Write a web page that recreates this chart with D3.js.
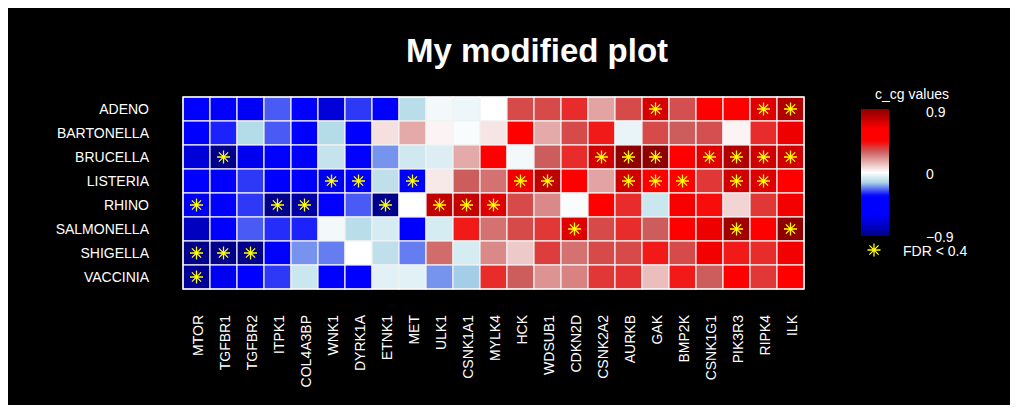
<!DOCTYPE html>
<html>
<head>
<meta charset="utf-8">
<script src="https://cdn.jsdelivr.net/npm/d3@7"></script>
<style>
  body { margin: 0; background: #ffffff; }
  text { font-family: "Liberation Sans", Arial, sans-serif; fill: #ffffff; }
</style>
</head>
<body>
<div id="container"></div>
<script>
const rows = ["ADENO", "BARTONELLA", "BRUCELLA", "LISTERIA", "RHINO", "SALMONELLA", "SHIGELLA", "VACCINIA"];

const genes = ["MTOR", "TGFBR1", "TGFBR2", "ITPK1", "COL4A3BP", "WNK1", "DYRK1A", "ETNK1", "MET", "ULK1",
    "CSNK1A1", "MYLK4", "HCK", "WDSUB1", "CDKN2D", "CSNK2A2", "AURKB", "GAK", "BMP2K", "CSNK1G1",
    "PIK3R3", "RIPK4", "ILK"];

// c_cg values, one array per row
const adeno      = [-0.5, -0.5, -0.62, -0.25, -0.5, -0.7, -0.28, -0.5, -0.12, -0.02, -0.03, 0, 0.33, 0.33, 0.38, 0.17, 0.33, 0.72, 0.32, 0.5, 0.55, 0.7, 0.81];
const bartonella = [-0.5, -0.3, -0.13, -0.25, -0.5, -0.13, -0.5, 0.06, 0.16, 0.02, -0.01, 0.05, 0.5, 0.16, 0.33, 0.41, -0.04, 0.33, 0.3, 0.32, 0.02, 0.38, 0.66];
const brucella   = [-0.7, -0.9, -0.64, -0.35, -0.5, -0.1, -0.5, -0.2, -0.08, -0.06, 0.16, 0.5, -0.02, 0.3, 0.38, 0.73, 0.89, 0.89, 0.5, 0.7, 0.81, 0.73, 0.73];
const listeria   = [-0.5, -0.5, -0.28, -0.5, -0.5, -0.64, -0.45, -0.11, -0.5, 0.04, 0.3, 0.26, 0.66, 0.77, 0.5, 0.17, 0.73, 0.6, 0.6, 0.36, 0.73, 0.7, 0.5];
const rhino      = [-0.64, -0.5, -0.28, -0.9, -0.84, -0.5, -0.25, -0.9, 0, 0.77, 0.76, 0.7, 0.33, 0.22, -0.01, 0.5, 0.38, -0.09, 0.64, 0.43, 0.08, 0.36, 0.65];
const salmonella = [-0.76, -0.5, -0.25, -0.29, -0.3, -0.02, -0.12, -0.07, -0.5, -0.07, 0.41, 0.26, 0.33, 0.36, 0.7, 0.33, 0.38, 0.3, 0.5, 0.66, 0.85, 0.5, 0.89];
const shigella   = [-0.9, -0.9, -0.9, -0.5, -0.2, -0.22, 0, -0.11, -0.22, 0.27, -0.07, 0.22, 0.1, 0.35, 0.26, 0.33, 0.33, 0.41, 0.33, 0.65, 0.41, 0.38, 0.65];
const vaccinia   = [-0.87, -0.64, -0.48, -0.28, -0.09, -0.5, -0.48, -0.05, -0.05, -0.2, -0.15, 0.38, 0.3, 0.2, 0.23, 0.36, 0.37, 0.12, 0.41, 0.3, 0.5, 0.36, 0.5];

// column indexes where FDR < 0.4
const adenoSig      = [17, 21, 22];
const bartonellaSig = [];
const brucellaSig   = [1, 15, 16, 17, 19, 20, 21, 22];
const listeriaSig   = [5, 6, 8, 12, 13, 16, 17, 18, 20, 21];
const rhinoSig      = [0, 3, 4, 7, 9, 10, 11];
const salmonellaSig = [14, 20, 22];
const shigellaSig   = [0, 1, 2];
const vacciniaSig   = [0];

const legendTicks = [0.9, 0, -0.9];

const values = [adeno, bartonella, brucella, listeria, rhino, salmonella, shigella, vaccinia];
const sigs = [adenoSig, bartonellaSig, brucellaSig, listeriaSig, rhinoSig, salmonellaSig, shigellaSig, vacciniaSig];

const width = 1017,
    height = 412;

const svg = d3.select('#container')
    .append('svg')
        .attr('width', width)
        .attr('height', height);

svg.append('rect')
    .attr('x', 8).attr('y', 8)
    .attr('width', 1002).attr('height', 397)
    .attr('fill', '#000000');

const color = d3.scaleLinear()
    .domain([-0.9, -0.6, -0.33, -0.14, 0, 0.15, 0.3, 0.45, 0.62, 0.9])
    .range(["#00008b", "#0000ff", "#0000ff", "#add8e6", "#ffffff", "#e6aeae", "#cd5c5c", "#ff0000", "#ff0000", "#8b0000"])
    .clamp(true);

const x = d3.scaleBand().domain(genes).range([183, 804]);
const y = d3.scaleBand().domain(rows).range([97, 289]);

const cells = [];
values.forEach((arr, r) => {
    arr.forEach((v, c) => {
        cells.push({ row: rows[r], gene: genes[c], v: v, sig: sigs[r].includes(c) });
    });
});

svg.append('text')
    .attr('x', 537)
    .attr('y', 62)
    .attr('text-anchor', 'middle')
    .style('font-size', '33px')
    .style('font-weight', 'bold')
    .text('My modified plot');

const grid = svg.append('g');

grid.selectAll('rect')
    .data(cells)
    .enter()
    .append('rect')
        .attr('x', d => x(d.gene))
        .attr('y', d => y(d.row))
        .attr('width', x.bandwidth())
        .attr('height', y.bandwidth())
        .attr('fill', d => color(d.v))
        .attr('stroke', '#f2f2f2')
        .attr('stroke-width', 1.2);

grid.append('rect')
    .attr('x', 183).attr('y', 97)
    .attr('width', 621).attr('height', 192)
    .attr('fill', 'none')
    .attr('stroke', '#ffffff')
    .attr('stroke-width', 1.2);

// pch 8 style asterisk
function star(cx, cy) {
    const a = 6.5, b = 4.6;
    return `M${cx - a},${cy}L${cx + a},${cy}M${cx},${cy - a}L${cx},${cy + a}` +
        `M${cx - b},${cy - b}L${cx + b},${cy + b}M${cx - b},${cy + b}L${cx + b},${cy - b}`;
}

svg.append('g').selectAll('path')
    .data(cells.filter(d => d.sig))
    .enter()
    .append('path')
        .attr('d', d => star(x(d.gene) + x.bandwidth() / 2, y(d.row) + y.bandwidth() / 2))
        .attr('stroke', '#ffff00')
        .attr('stroke-width', 1.3)
        .attr('fill', 'none');

svg.append('g').selectAll('text')
    .data(rows)
    .enter()
    .append('text')
        .attr('x', 149)
        .attr('y', d => y(d) + y.bandwidth() / 2)
        .attr('text-anchor', 'end')
        .attr('dominant-baseline', 'central')
        .style('font-size', '14px')
        .text(d => d);

svg.append('g').selectAll('text')
    .data(genes)
    .enter()
    .append('text')
        .attr('transform', d => `translate(${x(d) + x.bandwidth() / 2 + 1},315) rotate(-90)`)
        .attr('text-anchor', 'end')
        .attr('dominant-baseline', 'central')
        .style('font-size', '14px')
        .text(d => d);

// legend
const legend = svg.append('g');
const ly = d3.scaleLinear().domain([0.9, -0.9]).range([109, 236]);

const grad = svg.append('defs').append('linearGradient')
    .attr('id', 'ramp')
    .attr('x1', 0).attr('y1', 0).attr('x2', 0).attr('y2', 1);

grad.selectAll('stop')
    .data(d3.range(0, 1.0001, 0.02))
    .enter()
    .append('stop')
        .attr('offset', d => d)
        .attr('stop-color', d => color(0.9 - d * 1.8));

legend.append('rect')
    .attr('x', 861).attr('y', ly(0.9))
    .attr('width', 28).attr('height', ly(-0.9) - ly(0.9))
    .attr('fill', 'url(#ramp)');

legend.append('text')
    .attr('x', 912).attr('y', 99)
    .attr('text-anchor', 'middle')
    .style('font-size', '14px')
    .text('c_cg values');

legend.selectAll('.tick')
    .data(legendTicks)
    .enter()
    .append('text')
        .attr('class', 'tick')
        .attr('x', 926)
        .attr('y', d => d > 0 ? ly(d) + 3 : ly(d) + 1)
        .attr('dominant-baseline', 'central')
        .style('font-size', '14px')
        .text(d => d < 0 ? '\u2212' + Math.abs(d) : d);

legend.append('path')
    .attr('d', star(874, 250))
    .attr('stroke', '#ffff00')
    .attr('stroke-width', 1.3)
    .attr('fill', 'none');

legend.append('text')
    .attr('x', 903).attr('y', 251)
    .attr('dominant-baseline', 'central')
    .style('font-size', '14px')
    .text('FDR < 0.4');
</script>
</body>
</html>
